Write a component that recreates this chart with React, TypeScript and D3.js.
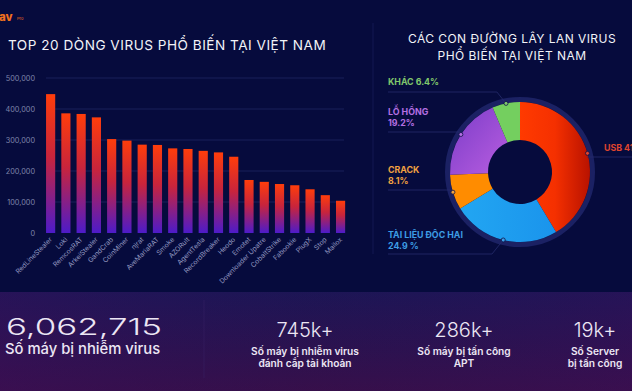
import * as d3 from 'd3';

// bar chart data
const virusNames = [
  'RedLineStealer', 'Loki', 'RemcosRAT', 'ArkeiStealer', 'GandCrab', 'CoinMiner', 'njrat',
  'AveMariaRAT', 'Smoke', 'AZORult', 'AgentTesla', 'RecordBreaker', 'Heodo', 'Emotet',
  'Downloader Upatre', 'CobaltStrike', 'Fabookie', 'PlugX', 'Stop', 'Mailox',
];
const virusCounts = [
  448000, 386000, 384000, 373000, 303000, 298000, 285000, 284000, 273000, 271000,
  265000, 260000, 246000, 171000, 165000, 158000, 154000, 141000, 122000, 104000,
];
const yTicks = [0, 100000, 200000, 300000, 400000, 500000];

// donut data
const routeLabels = ['USB', 'TÀI LIỆU ĐỘC HẠI', 'CRACK', 'LỖ HỔNG', 'KHÁC'];
const routeShares = [41.4, 24.9, 8.1, 19.2, 6.4];
const routeText = ['USB 41.4%', '24.9 %', '8.1%', '19.2%', 'KHÁC 6.4%'];

// stats
const totalInfected = '6,062,715';
const statValues = ['745k+', '286k+', '19k+'];
const statLines = [
  ['Số máy bị nhiễm virus', 'đánh cắp tài khoản'],
  ['Số máy bị tấn công', 'APT'],
  ['Số Server', 'bị tấn công'],
];

const W = 632;
const H = 391;
const BG = '#060b3d';
const FONT = 'Inter, "Open Sans", sans-serif';

export default function App() {
  const x = d3.scaleBand<string>().domain(virusNames).range([43, 348.2]).paddingInner(0.4).paddingOuter(0.2);
  const y = d3.scaleLinear().domain([0, 500000]).range([233, 78]);
  const fmt = d3.format(',');

  const cx = 520;
  const cy = 172;
  const pie = d3.pie<number>().sort(null).startAngle(0).endAngle(2 * Math.PI);
  const arcs = pie(routeShares);
  const arc = d3.arc<d3.PieArcDatum<number>>().innerRadius(32).outerRadius(70);
  const fills = ['url(#gRed)', 'url(#gBlue)', '#ff8c00', 'url(#gPurple)', '#74cf5f'];
  const textColors = ['#e0452e', '#3d9ee6', '#f1a241', '#b46fe2', '#80c76c'];
  // label line y positions (layout)
  const lineY = [157, 254, 190, 132, 92];

  const dot = (a: d3.PieArcDatum<number>) => {
    const m = (a.startAngle + a.endAngle) / 2;
    return [cx + 70 * Math.sin(m), cy - 70 * Math.cos(m)];
  };

  return (
    <svg width={W} height={H} style={{ position: 'absolute', left: 0, top: 0 }} fontFamily={FONT}>
      <defs>
        <linearGradient id="gBar" x1="0" y1="0" x2="0" y2="1">
          <stop offset="0" stopColor="#ff3d0b" />
          <stop offset="0.45" stopColor="#c8243c" />
          <stop offset="1" stopColor="#4d1bc9" />
        </linearGradient>
        <linearGradient id="gRed" x1="0" y1="0" x2="1" y2="0">
          <stop offset="0" stopColor="#ff3a00" />
          <stop offset="0.5" stopColor="#f53000" />
          <stop offset="1" stopColor="#b81200" />
        </linearGradient>
        <linearGradient id="gBlue" x1="0" y1="0" x2="1" y2="0">
          <stop offset="0" stopColor="#22a6f2" />
          <stop offset="1" stopColor="#1a94ec" />
        </linearGradient>
        <linearGradient id="gPurple" x1="0" y1="0" x2="1" y2="1">
          <stop offset="0" stopColor="#7a3cc8" />
          <stop offset="1" stopColor="#b95ee0" />
        </linearGradient>
        <linearGradient id="gPanel" x1="0" y1="0" x2="0" y2="1">
          <stop offset="0" stopColor="#1d1554" />
          <stop offset="1" stopColor="#3a0e48" />
        </linearGradient>
        <linearGradient id="gPanelH" x1="0" y1="0" x2="1" y2="0">
          <stop offset="0" stopColor="#3a1060" stopOpacity="0.35" />
          <stop offset="0.5" stopColor="#1a1860" stopOpacity="0.1" />
          <stop offset="1" stopColor="#3a1060" stopOpacity="0.3" />
        </linearGradient>
      </defs>

      <rect width={W} height={H} fill={BG} />

      {/* logo */}
      <text x={-1} y={20.5} fontSize={11.5} fontWeight={800} fill="#f0701e">av</text>
      <text x={17} y={20} fontSize={4} fill="#f0701e">Pro</text>

      {/* left title */}
      <text x={8} y={49.5} fontSize={13.6} fontWeight={400} fill="#f2f3f8" letterSpacing={0.5}>
        TOP 20 DÒNG VIRUS PHỔ BIẾN TẠI VIỆT NAM
      </text>

      {/* grid + y ticks */}
      {yTicks.map(t => (
        <g key={t}>
          {t > 0 && <line x1={46} x2={344} y1={y(t)} y2={y(t)} stroke="#18205a" strokeWidth={1} />}
          <text x={35} y={y(t) + 2.5} textAnchor="end" fontSize={7.3} fill="#7f84aa">{fmt(t)}</text>
        </g>
      ))}

      {/* bars */}
      {virusNames.map((n, i) => (
        <rect key={n} x={x(n)} y={y(virusCounts[i])} width={x.bandwidth()} height={y(0) - y(virusCounts[i])} fill="url(#gBar)" />
      ))}
      {virusNames.map(n => {
        const bx = (x(n) ?? 0) + x.bandwidth() / 2 + 2;
        return (
          <text key={n} transform={`translate(${bx},${240}) rotate(-45)`} textAnchor="end" fontSize={6.8} fill="#9499c0">{n}</text>
        );
      })}

      {/* right panel */}
      <line x1={373} x2={373} y1={23} y2={254} stroke="#121852" strokeWidth={1} />
      <g textAnchor="middle" fontSize={12} fontWeight={400} fill="#f2f3f8" letterSpacing={0.45}>
        <text x={512} y={42.5}>CÁC CON ĐƯỜNG LÂY LAN VIRUS</text>
        <text x={512} y={60}>PHỔ BIẾN TẠI VIỆT NAM</text>
      </g>

      <circle cx={cx} cy={cy} r={72.5} fill="none" stroke="#1b2163" strokeWidth={5} />
      <g transform={`translate(${cx},${cy})`}>
        {arcs.map((a, i) => (
          <path key={routeLabels[i]} d={arc(a) ?? ''} fill={fills[i]} />
        ))}
      </g>

      {/* connectors */}
      {arcs.map((a, i) => {
        const [dx, dy] = dot(a);
        const ly = lineY[i];
        const pts = [[388, ly], [dx - Math.abs(dy - ly) * 0.8, ly], [dx, dy]] as [number, number][];
        const d = i === 0 ? `M${dx},${ly}L${W},${ly}` : d3.line()(pts);
        return (
          <g key={routeLabels[i]}>
            <path d={d ?? ''} fill="none" stroke="#262c6c" strokeWidth={0.8} />
            <circle cx={dx} cy={dy} r={2} fill={textColors[i]} stroke="#0c1248" strokeWidth={0.8} />
          </g>
        );
      })}

      {/* labels */}
      <g fontSize={8.8} fontWeight={700}>
        <text x={388} y={85} fill={textColors[4]}>{routeText[4]}</text>
        <text x={388} y={115} fill={textColors[3]}>{routeLabels[3]}</text>
        <text x={388} y={126} fill={textColors[3]}>{routeText[3]}</text>
        <text x={388} y={173} fill={textColors[2]}>{routeLabels[2]}</text>
        <text x={388} y={184} fill={textColors[2]}>{routeText[2]}</text>
        <text x={388} y={238} fill={textColors[1]}>{routeLabels[1]}</text>
        <text x={388} y={248.5} fill={textColors[1]}>{routeText[1]}</text>
        <text x={604} y={151} fill={textColors[0]}>{routeText[0]}</text>
      </g>

      {/* bottom panel */}
      <rect x={0} y={292} width={W} height={H - 292} fill="url(#gPanel)" />
      <rect x={0} y={292} width={W} height={H - 292} fill="url(#gPanelH)" />
      <line x1={204} x2={204} y1={300} y2={378} stroke="#3a2468" strokeWidth={0.8} opacity={0.6} />

      <text x={6} y={334.5} fontSize={23} fontWeight={300} fill="#ece6f4" textLength={156} lengthAdjust="spacingAndGlyphs">{totalInfected}</text>
      <text x={5} y={354} fontSize={14.8} fontWeight={500} fill="#ece6f4">Số máy bị nhiễm virus</text>

      {statValues.map((v, i) => {
        const sx = [305, 464, 595][i];
        return (
          <g key={v} textAnchor="middle" fill="#ece6f4">
            <text x={sx} y={336.5} fontSize={20} fontWeight={300}>{v}</text>
            <text x={sx} y={355} fontSize={10.2} fontWeight={600}>{statLines[i][0]}</text>
            <text x={sx} y={367} fontSize={10.2} fontWeight={600}>{statLines[i][1]}</text>
          </g>
        );
      })}
    </svg>
  );
}
